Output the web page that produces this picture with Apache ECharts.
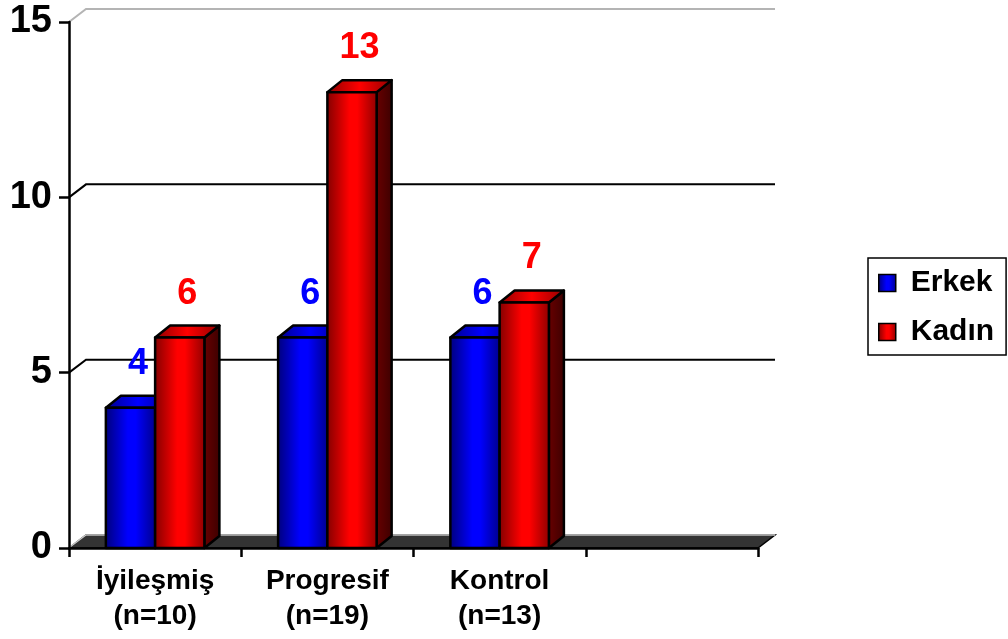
<!DOCTYPE html>
<html>
<head>
<meta charset="utf-8">
<style>
  html, body { margin: 0; padding: 0; background: #fff; }
  #chart { width: 1008px; height: 639px; }
</style>
<script src="https://cdn.jsdelivr.net/npm/echarts@6/dist/echarts.min.js"></script>
</head>
<body>
<div id="chart"></div>
<script>
// Group labels along the category axis (last slot left empty)
const categories = ['İyileşmiş\n(n=10)', 'Progresif\n(n=19)', 'Kontrol\n(n=13)', ''];
// Counts per group
const erkek = [4, 6, 6];
const kadin = [6, 13, 7];
// Value axis ticks
const yTicks = [0, 5, 10, 15];

const FONT = "'Liberation Sans', Arial, sans-serif";

// Depth offsets for the pseudo-3D look
const BAR_DX = 15, BAR_DY = -12;
const WALL_DX = 17, WALL_DY = -13;

function hGrad(stops) {
  return {
    type: 'linear', x: 0, y: 0, x2: 1, y2: 0,
    colorStops: stops.map(s => ({ offset: s[0], color: s[1] }))
  };
}

const palettes = {
  blue: {
    front: hGrad([[0, '#000078'], [0.45, '#0000ff'], [0.6, '#0000ff'], [1, '#000088']]),
    top: hGrad([[0, '#00008a'], [0.5, '#0000ff'], [1, '#000090']]),
    side: hGrad([[0, '#000070'], [1, '#00004a']]),
    label: '#0000ff'
  },
  red: {
    front: hGrad([[0, '#800000'], [0.45, '#ff0000'], [0.6, '#ff0000'], [1, '#8c0000']]),
    top: hGrad([[0, '#8a0000'], [0.5, '#ff0000'], [1, '#900000']]),
    side: hGrad([[0, '#6a0000'], [1, '#3c0000']]),
    label: '#ff0000'
  }
};

function barRenderer(side, pal) {
  return function (params, api) {
    const ci = api.value(0);
    const v = api.value(1);
    const base = api.coord([ci, 0]);
    const top = api.coord([ci, v]);
    const band = api.size([1, 0])[0];
    const w = band * 0.286;
    const x0 = side === 0 ? base[0] - w : base[0];
    const x1 = x0 + w;
    const yT = top[1], yB = base[1];
    const stroke = { stroke: '#000', lineWidth: 2.5, lineJoin: 'round' };
    return {
      type: 'group',
      children: [
        {
          type: 'polygon',
          shape: { points: [[x1, yT], [x1 + BAR_DX, yT + BAR_DY], [x1 + BAR_DX, yB + BAR_DY], [x1, yB]] },
          style: Object.assign({ fill: pal.side }, stroke)
        },
        {
          type: 'polygon',
          shape: { points: [[x0, yT], [x1, yT], [x1 + BAR_DX, yT + BAR_DY], [x0 + BAR_DX, yT + BAR_DY]] },
          style: Object.assign({ fill: pal.top }, stroke)
        },
        {
          type: 'rect',
          shape: { x: x0, y: yT, width: w, height: yB - yT },
          style: Object.assign({ fill: pal.front }, stroke)
        },
        {
          type: 'text',
          x: (x0 + x1) / 2 + BAR_DX / 2,
          y: yT + BAR_DY - 14,
          style: {
            text: String(v),
            fill: pal.label,
            font: 'bold 36px ' + FONT,
            align: 'center',
            verticalAlign: 'bottom'
          }
        }
      ]
    };
  };
}

// Back wall gridlines plus the matching diagonals on the side wall
function wallRenderer(params, api) {
  const v = api.value(0);
  const cs = params.coordSys;
  const y = api.coord([0, v])[1];
  const x0 = cs.x, x1 = cs.x + cs.width;
  const gray = v === 15;
  return {
    type: 'polyline',
    shape: { points: [[x0, y], [x0 + WALL_DX, y + WALL_DY], [x1 + WALL_DX, y + WALL_DY]] },
    style: { stroke: gray ? '#b4b4b4' : '#000', lineWidth: 2, fill: null }
  };
}

// Dark floor slab under the bars
function floorRenderer(params, api) {
  const cs = params.coordSys;
  const y = api.coord([0, 0])[1];
  const x0 = cs.x, x1 = cs.x + cs.width;
  return {
    type: 'group',
    children: [
      {
        type: 'polygon',
        shape: { points: [[x0, y], [x0 + WALL_DX, y + WALL_DY], [x1 + WALL_DX, y + WALL_DY], [x1, y]] },
        style: { fill: '#333333', stroke: '#000', lineWidth: 1.5 }
      },
      {
        type: 'polyline',
        shape: { points: [[x0 + 1, y - 1], [x0 + WALL_DX, y + WALL_DY], [x1 + WALL_DX, y + WALL_DY]] },
        style: { stroke: '#c8c8c8', lineWidth: 1.5, fill: null }
      }
    ]
  };
}

const chart = echarts.init(document.getElementById('chart'), null, { renderer: 'canvas' });

chart.setOption({
  backgroundColor: '#ffffff',
  animation: false,
  grid: { left: 69, right: 250, top: 22, bottom: 91, containLabel: false },
  legend: {
    orient: 'vertical',
    left: 868,
    top: 258,
    data: ['Erkek', 'Kadın'],
    icon: 'rect',
    itemWidth: 17,
    itemHeight: 17,
    itemGap: 19,
    padding: [10, 12, 8, 10],
    borderColor: '#000',
    borderWidth: 1.5,
    itemStyle: { borderColor: '#000', borderWidth: 1.5 },
    textStyle: { fontFamily: FONT, fontWeight: 'bold', fontSize: 30, color: '#000', padding: [0, 0, 0, 10] }
  },
  xAxis: {
    type: 'category',
    data: categories,
    z: 10,
    axisLine: { show: true, lineStyle: { color: '#000', width: 2.5 } },
    axisTick: { show: true, length: 9, lineStyle: { color: '#000', width: 2.5 } },
    axisLabel: {
      interval: 0,
      margin: 16,
      fontFamily: FONT,
      fontWeight: 'bold',
      fontSize: 28,
      lineHeight: 35,
      color: '#000'
    },
    splitLine: { show: false }
  },
  yAxis: {
    type: 'value',
    min: yTicks[0],
    max: yTicks[yTicks.length - 1],
    interval: 5,
    z: 10,
    axisLine: { show: true, lineStyle: { color: '#000', width: 2.5 } },
    axisTick: { show: true, length: 10, lineStyle: { color: '#000', width: 2.5 } },
    axisLabel: {
      margin: 17,
      fontFamily: FONT,
      fontWeight: 'bold',
      fontSize: 38,
      color: '#000'
    },
    splitLine: { show: false }
  },
  series: [
    {
      type: 'custom',
      name: 'wall',
      silent: true,
      z: 1,
      renderItem: wallRenderer,
      data: yTicks.filter(t => t > 0).map(t => [t])
    },
    {
      type: 'custom',
      name: 'floor',
      silent: true,
      z: 1,
      renderItem: floorRenderer,
      data: [[0]]
    },
    {
      type: 'custom',
      name: 'Erkek',
      z: 3,
      itemStyle: { color: palettes.blue.front },
      renderItem: barRenderer(0, palettes.blue),
      data: erkek.map((v, i) => [i, v])
    },
    {
      type: 'custom',
      name: 'Kadın',
      z: 4,
      itemStyle: { color: palettes.red.front },
      renderItem: barRenderer(1, palettes.red),
      data: kadin.map((v, i) => [i, v])
    }
  ]
});
</script>
</body>
</html>
